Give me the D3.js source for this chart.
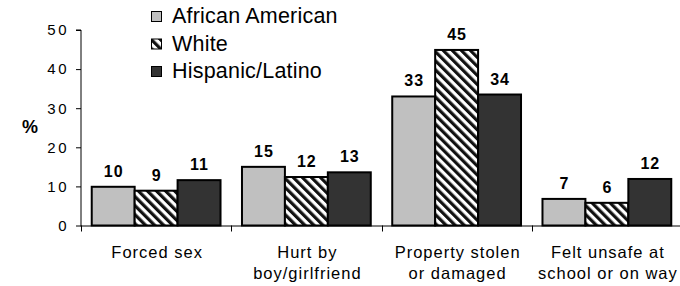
<!DOCTYPE html>
<html>
<head>
<meta charset="utf-8">
<script src="https://cdn.jsdelivr.net/npm/d3@7"></script>
<style>
  body { margin: 0; background: #fff; }
  svg { display: block; font-family: "Liberation Sans", Arial, sans-serif; }
</style>
</head>
<body>
<svg id="chart" width="680" height="286"></svg>
<script>
// categories (two-line labels)
var categories = ["Forced sex", "Hurt by boy/girlfriend", "Property stolen or damaged", "Felt unsafe at school or on way"];
var categoryLines = [["Forced sex"], ["Hurt by", "boy/girlfriend"], ["Property stolen", "or damaged"], ["Felt unsafe at", "school or on way"]];
var seriesNames = ["African American", "White", "Hispanic/Latino"];

var africanAmerican = [9.9, 15.0, 33.0, 6.8];
var white = [8.9, 12.4, 44.9, 5.8];
var hispanicLatino = [11.6, 13.6, 33.5, 11.9];
var africanAmericanLabels = [10, 15, 33, 7];
var whiteLabels = [9, 12, 45, 6];
var hispanicLatinoLabels = [11, 13, 34, 12];

var yTicks = [0, 10, 20, 30, 40, 50];

var seriesValues = [africanAmerican, white, hispanicLatino];
var seriesLabels = [africanAmericanLabels, whiteLabels, hispanicLatinoLabels];
var fills = ["#c0c0c0", "url(#stripes)", "#333333"];

var svg = d3.select("#chart");

// striped pattern for White
var defs = svg.append("defs");
var pat = defs.append("pattern")
    .attr("id", "stripes")
    .attr("patternUnits", "userSpaceOnUse")
    .attr("width", 6.4)
    .attr("height", 10)
    .attr("patternTransform", "rotate(-45)");
pat.append("rect").attr("width", 6.4).attr("height", 10).attr("fill", "#fff");
pat.append("rect").attr("width", 3.2).attr("height", 10).attr("fill", "#111");

var x0 = d3.scaleBand().domain(categories).range([81, 682]).paddingInner(0).paddingOuter(0);
var x1 = d3.scaleBand().domain(seriesNames).range([0, x0.bandwidth()]).paddingInner(0).paddingOuter(0.25);
var y = d3.scaleLinear().domain([0, 50]).range([225.5, 30]);

// y axis
var yAxis = svg.append("g")
    .attr("transform", "translate(81,0)")
    .call(d3.axisLeft(y).tickValues(yTicks).tickSize(5).tickPadding(7).tickFormat(d3.format("d")));
yAxis.select(".domain").attr("d", "M-5," + y(50) + "H0V" + (y(0) + 1));
yAxis.selectAll("text").attr("font-size", 15).attr("font-family", "Liberation Sans, Arial, sans-serif")
    .attr("fill", "#000").attr("letter-spacing", 2.5);
yAxis.selectAll("line").attr("stroke", "#000");

svg.append("text")
    .attr("x", 30).attr("y", 133)
    .attr("text-anchor", "middle")
    .attr("font-size", 18).attr("font-weight", "bold")
    .text("%");

// bars
var groups = svg.selectAll("g.cat")
    .data(categories)
    .enter().append("g")
    .attr("class", "cat")
    .attr("transform", function(d) { return "translate(" + x0(d) + ",0)"; });

groups.each(function(c, ci) {
  var g = d3.select(this);
  seriesNames.forEach(function(s, si) {
    var v = seriesValues[si][ci];
    g.append("rect")
      .attr("x", x1(s))
      .attr("y", y(v))
      .attr("width", x1.bandwidth())
      .attr("height", y(0) - y(v))
      .attr("fill", fills[si])
      .attr("stroke", "#000")
      .attr("stroke-width", 2);
    g.append("text")
      .attr("x", x1(s) + x1.bandwidth() / 2 + 0.5)
      .attr("y", y(v) - 10)
      .attr("text-anchor", "middle")
      .attr("font-size", 16)
      .attr("font-weight", "bold")
      .attr("letter-spacing", 1)
      .text(seriesLabels[si][ci]);
  });
});

// x axis line and category boundary ticks
svg.append("line")
    .attr("x1", 81).attr("x2", 680)
    .attr("y1", y(0) + 0.5).attr("y2", y(0) + 0.5)
    .attr("stroke", "#000");
var bounds = categories.map(function(c) { return x0(c); });
svg.selectAll("line.bound")
    .data(bounds)
    .enter().append("line")
    .attr("class", "bound")
    .attr("x1", function(d) { return Math.round(d) + 0.5; })
    .attr("x2", function(d) { return Math.round(d) + 0.5; })
    .attr("y1", y(0)).attr("y2", y(0) + 6)
    .attr("stroke", "#000");

// category labels
groups.each(function(c, ci) {
  var t = d3.select(this).append("text")
    .attr("text-anchor", "middle")
    .attr("font-size", 16.5)
    .attr("letter-spacing", 1);
  categoryLines[ci].forEach(function(line, li) {
    t.append("tspan")
      .attr("x", x0.bandwidth() / 2 + 1)
      .attr("y", 258 + li * 21)
      .text(line);
  });
});

// legend
var legend = svg.selectAll("g.legend")
    .data(seriesNames)
    .enter().append("g")
    .attr("class", "legend")
    .attr("transform", function(d, i) { return "translate(151," + (23 + i * 27.5) + ")"; });
legend.append("rect")
    .attr("x", 0.5).attr("y", -11.5)
    .attr("width", 10).attr("height", 10)
    .attr("fill", function(d, i) { return fills[i]; })
    .attr("stroke", "#000");
legend.append("text")
    .attr("x", 21).attr("y", 0)
    .attr("font-size", 21.5)
    .attr("letter-spacing", 0.2)
    .text(function(d) { return d; });
</script>
</body>
</html>
